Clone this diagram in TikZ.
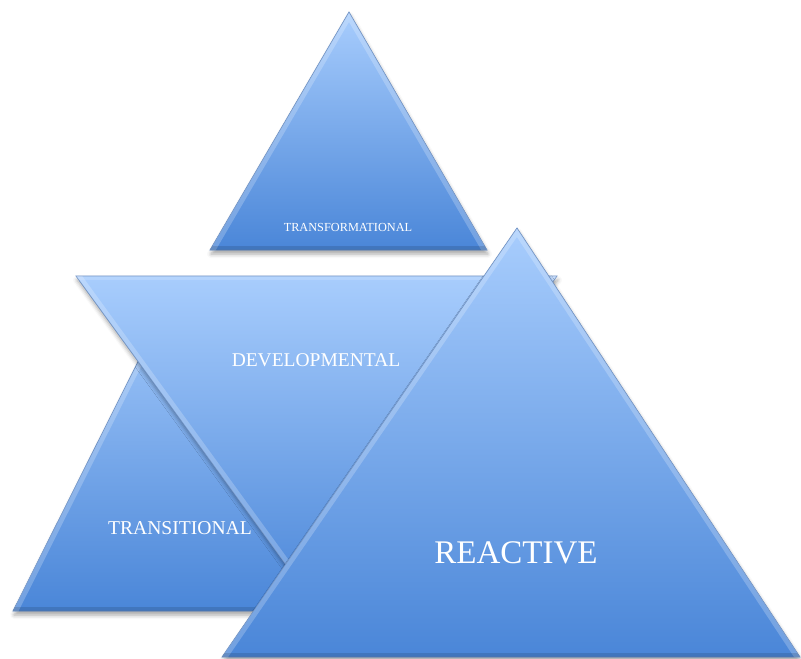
\documentclass[tikz,border=0pt]{standalone}
\usepackage{fontspec}
\setmainfont{Liberation Serif}
\usetikzlibrary{shadows.blur}
\definecolor{tritop}{HTML}{A8CDFD}
\definecolor{tribot}{HTML}{4A86D8}
\definecolor{triedge}{HTML}{5F86BE}
\begin{document}
\begin{tikzpicture}[x=1pt,y=-1pt,
  tri/.style={draw=triedge, line width=0.7pt, line join=miter,
    top color=tritop, bottom color=tribot,
    blur shadow={shadow xshift=1pt, shadow yshift=-4pt, shadow blur radius=4pt, shadow opacity=35}},
  hilite/.style={draw=white, draw opacity=0.22, line width=10pt},
  lowlite/.style={draw=black, draw opacity=0.12, line width=8pt},
  lbl/.style={text=white, inner sep=0pt, anchor=base}]
\useasboundingbox (0,0) rectangle (801,659);

% ---------- TRANSITIONAL ----------
\coordinate (ta) at (175,288);
\coordinate (tl) at (13,611);
\coordinate (tr) at (337,611);
\path[tri] (ta) -- (tl) -- (tr) -- cycle;
\begin{scope}
  \clip (ta) -- (tl) -- (tr) -- cycle;
  \draw[hilite] (tl) -- (ta) -- (tr);
  \draw[lowlite] (tl) -- (tr);
\end{scope}

% ---------- DEVELOPMENTAL ----------
\coordinate (dl) at (76,276);
\coordinate (dr) at (557,276);
\coordinate (db) at (316,606);
\path[tri] (dl) -- (dr) -- (db) -- cycle;
\begin{scope}
  \clip (dl) -- (dr) -- (db) -- cycle;
  \draw[hilite] (dl) -- (db) -- (dr);
  \draw[draw=white, draw opacity=0.15, line width=8pt] (dl) -- (dr);
\end{scope}

% ---------- TRANSFORMATIONAL ----------
\coordinate (fa) at (349,12);
\coordinate (fl) at (210,250);
\coordinate (fr) at (487,250);
\path[tri] (fa) -- (fl) -- (fr) -- cycle;
\begin{scope}
  \clip (fa) -- (fl) -- (fr) -- cycle;
  \draw[hilite] (fl) -- (fa) -- (fr);
  \draw[lowlite] (fl) -- (fr);
\end{scope}

% ---------- REACTIVE ----------
\coordinate (ra) at (517,228);
\coordinate (rl) at (222,657);
\coordinate (rr) at (800,657);
\path[tri] (ra) -- (rl) -- (rr) -- cycle;
\begin{scope}
  \clip (ra) -- (rl) -- (rr) -- cycle;
  \draw[hilite] (rl) -- (ra) -- (rr);
  \draw[lowlite] (rl) -- (rr);
\end{scope}

% ---------- labels ----------
\node[lbl, font=\fontsize{19.6}{22}\selectfont] (ttrans) at (180,534) {TRANSITIONAL};
\node[lbl, font=\fontsize{19.5}{22}\selectfont] (tdev) at (316,366) {DEVELOPMENTAL};
\node[lbl, font=\fontsize{12.3}{14}\selectfont] (tform) at (348,231) {TRANSFORMATIONAL};
\node[lbl, font=\fontsize{33}{36}\selectfont] (treact) at (516,563) {REACTIVE};
\end{tikzpicture}
\end{document}
